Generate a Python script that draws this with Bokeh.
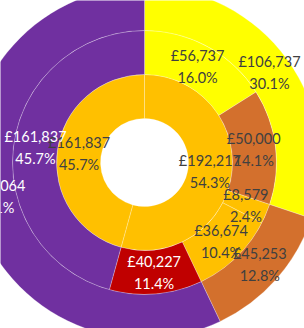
import math
from bokeh.plotting import figure
from bokeh.models import ColumnDataSource, Range1d
from bokeh.core.properties import value
from bokeh.embed import file_html
from bokeh.resources import INLINE

# ---- data (three doughnut series, inner to outer) ----
inner_values = [192217, 161837]
inner_colors = ["#FFC000", "#FFC000"]
inner_text_colors = ["#404040", "#404040"]

middle_values = [56737, 50000, 8579, 36674, 40227, 161837]
middle_colors = ["#FFFF00", "#D3702D", "#FFC000", "#FFC000", "#C00000", "#7030A0"]
middle_text_colors = ["#404040", "#404040", "#404040", "#404040", "#FFFFFF", "#FFFFFF"]

outer_values = [106737, 45253, 202064]
outer_colors = ["#FFFF00", "#D3702D", "#7030A0"]
outer_text_colors = ["#404040", "#404040", "#FFFFFF"]

# ---- layout ----
W, H = 304, 328
HOLE = 44.0
RING = 44.0

p = figure(width=W, height=H, output_backend="svg", toolbar_location=None,
           x_range=Range1d(-144, W - 144), y_range=Range1d(-(H - 162), 162),
           min_border=0, outline_line_color=None, background_fill_color="white",
           border_fill_color="white")
p.axis.visible = False
p.grid.visible = False


def ring(values, colors, tcolors, level):
    total = float(sum(values))
    r0 = HOLE + level * RING
    r1 = r0 + RING
    rm = (r0 + r1) / 2
    starts, ends, xs, ys, labels = [], [], [], [], []
    cum = 0.0
    for v in values:
        c0 = cum / total
        cum += v
        c1 = cum / total
        # Excel: start at 12 o'clock, go clockwise
        a0 = math.pi / 2 - 2 * math.pi * c1
        a1 = math.pi / 2 - 2 * math.pi * c0
        starts.append(a0)
        ends.append(a1)
        am = (a0 + a1) / 2
        xs.append(rm * math.cos(am))
        ys.append(rm * math.sin(am))
        labels.append(f"£{v:,}\n{100 * v / total:.1f}%")
    src = ColumnDataSource(dict(start=starts, end=ends, color=colors,
                                tcolor=tcolors, x=xs, y=ys, label=labels))
    p.annular_wedge(x=0, y=0, inner_radius=r0, outer_radius=r1,
                    start_angle="start", end_angle="end", direction="anticlock",
                    fill_color="color", line_color="white", line_width=0.75,
                    line_alpha=0.35, source=src)
    return src


srcs = [ring(inner_values, inner_colors, inner_text_colors, 0),
        ring(middle_values, middle_colors, middle_text_colors, 1),
        ring(outer_values, outer_colors, outer_text_colors, 2)]

for src in srcs:
    p.text(x="x", y="y", text="label", source=src, text_color="tcolor",
           text_align="center", text_baseline="middle",
           text_font=value("Lato"), text_font_size="14.5px",
           text_line_height=1.3)

open("out.html", "w").write(file_html(p, INLINE))
